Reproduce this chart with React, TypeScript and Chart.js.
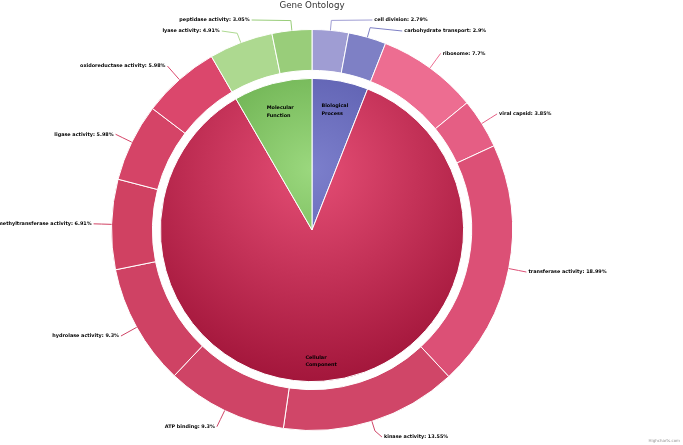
import React, { useEffect, useRef } from 'react';
import { Chart, registerables } from 'chart.js';

Chart.register(...registerables);

const chartTitle = 'Gene Ontology';
const creditText = 'Highcharts.com';

const categories = ['Biological Process', 'Cellular Component', 'Molecular Function'];
const categoryValues = [5.69, 81.56, 7.96];
const categoryLight = ['#7c7fcc', '#e54e75', '#9bd87e'];
const categoryDark = ['#45479a', '#a3163b', '#4b9530'];

const bioTerms = ['cell division', 'carbohydrate transport'];
const bioValues = [2.79, 2.9];
const bioColors = ['#9f9dd3', '#7e80c5'];

const cellTerms = [
  'ribosome',
  'viral capsid',
  'transferase activity',
  'kinase activity',
  'ATP binding',
  'hydrolase activity',
  'methyltransferase activity',
  'ligase activity',
  'oxidoreductase activity',
];
const cellValues = [7.7, 3.85, 18.99, 13.55, 9.3, 9.3, 6.91, 5.98, 5.98];
const cellColors = ['#ed6d91', '#e55e84', '#dc5076', '#d04668', '#cf4466', '#cf4264', '#d04162', '#d54467', '#db476c'];

const molTerms = ['lyase activity', 'peptidase activity'];
const molValues = [4.91, 3.05];
const molColors = ['#add990', '#99cd7a'];

const termLabels = [...bioTerms, ...cellTerms, ...molTerms];
const termValues = [...bioValues, ...cellValues, ...molValues];
const termColors = [...bioColors, ...cellColors, ...molColors];

const labelFont = 'bold 4.9px "DejaVu Sans", Verdana, sans-serif';

function innerColor(c: any) {
  const i = c.dataIndex;
  const chart = c.chart;
  const area = chart.chartArea;
  if (!area || c.type !== 'data') return categoryLight[i];
  const ctrl: any = chart.getDatasetMeta(c.datasetIndex).controller;
  const r = ctrl && ctrl.outerRadius ? ctrl.outerRadius : 150;
  const cx = (area.left + area.right) / 2;
  const cy = (area.top + area.bottom) / 2;
  const gy = cy - 0.4 * r;
  const g = chart.ctx.createRadialGradient(cx, gy, 0, cx, gy, 1.4 * r);
  g.addColorStop(0, categoryLight[i]);
  g.addColorStop(1, categoryDark[i]);
  return g;
}

const labelPlugin = {
  id: 'goLabels',
  afterDatasetsDraw(chart: any) {
    const ctx = chart.ctx as CanvasRenderingContext2D;
    const area = chart.chartArea;
    const cx = (area.left + area.right) / 2;
    const cy = (area.top + area.bottom) / 2;
    const outerMeta = chart.getDatasetMeta(0);
    const R = outerMeta.controller.outerRadius;
    const Rl = R + 18;
    const items = outerMeta.data.map((arc: any, i: number) => {
      const p = arc.getProps(['startAngle', 'endAngle'], true);
      const mid = (p.startAngle + p.endAngle) / 2;
      return {
        i,
        mid,
        right: Math.cos(mid) >= 0,
        y: cy + Math.sin(mid) * Rl,
        text: termLabels[i] + ': ' + termValues[i] + '%',
        color: termColors[i],
      };
    });
    const gap = 11;
    const topLimit = area.top - 9;
    const bottomLimit = area.bottom + 6;
    [true, false].forEach((side) => {
      const arr = items.filter((it: any) => it.right === side).sort((a: any, b: any) => a.y - b.y);
      let prev = -Infinity;
      arr.forEach((it: any) => {
        it.y = Math.max(it.y, topLimit, prev + gap);
        prev = it.y;
      });
      let next = Infinity;
      for (let k = arr.length - 1; k >= 0; k--) {
        arr[k].y = Math.min(arr[k].y, bottomLimit, next - gap);
        next = arr[k].y;
      }
    });

    ctx.save();
    items.forEach((it: any) => {
      const dy = it.y - cy;
      const dx = Math.sqrt(Math.max(Rl * Rl - dy * dy, 0));
      const x = it.right ? cx + dx : cx - dx;
      const bx = cx + Math.cos(it.mid) * (R + 10);
      const by = cy + Math.sin(it.mid) * (R + 10);
      const ex = cx + Math.cos(it.mid) * R;
      const ey = cy + Math.sin(it.mid) * R;
      ctx.beginPath();
      ctx.strokeStyle = it.color;
      ctx.lineWidth = 1;
      ctx.moveTo(x, it.y);
      ctx.lineTo(bx, by);
      ctx.lineTo(ex, ey);
      ctx.stroke();
      ctx.font = labelFont;
      ctx.fillStyle = '#000000';
      ctx.textBaseline = 'middle';
      ctx.textAlign = it.right ? 'left' : 'right';
      ctx.fillText(it.text, it.right ? x + 2 : x - 2, it.y);
    });

    // inner labels (lines left-aligned inside a box centred on the anchor)
    const innerMeta = chart.getDatasetMeta(2);
    const Ri = innerMeta.controller.outerRadius;
    innerMeta.data.forEach((arc: any, i: number) => {
      const p = arc.getProps(['startAngle', 'endAngle'], true);
      const mid = (p.startAngle + p.endAngle) / 2;
      const lx = cx + Math.cos(mid) * (Ri - 29);
      const ly = cy + Math.sin(mid) * (Ri - 29) + ((Math.sin(mid) + 1) / 2) * 9;
      const lines = categories[i].split(' ');
      ctx.font = labelFont;
      ctx.fillStyle = '#000000';
      ctx.textAlign = 'left';
      ctx.textBaseline = 'middle';
      const maxW = Math.max(...lines.map((ln) => ctx.measureText(ln).width));
      const lh = 7.5;
      lines.forEach((ln, k) => {
        ctx.fillText(ln, lx - maxW / 2, ly + (k - (lines.length - 1) / 2) * lh);
      });
    });

    // title
    ctx.font = '8.7px "DejaVu Sans", Verdana, sans-serif';
    ctx.fillStyle = '#333333';
    ctx.textAlign = 'center';
    ctx.textBaseline = 'middle';
    ctx.fillText(chartTitle, cx, 5.5);

    // credit
    ctx.font = '4px "DejaVu Sans", Verdana, sans-serif';
    ctx.fillStyle = '#909090';
    ctx.textAlign = 'right';
    ctx.fillText(creditText, chart.width - 3, chart.height - 4);
    ctx.restore();
  },
};

export default function App() {
  const ref = useRef<HTMLCanvasElement | null>(null);
  useEffect(() => {
    document.body.style.margin = '0';
    if (!ref.current) return;
    const chart = new Chart(ref.current, {
      type: 'doughnut',
      data: {
        labels: termLabels,
        datasets: [
          {
            data: termValues,
            backgroundColor: termColors,
            borderColor: '#ffffff',
            borderWidth: 1,
            weight: 41,
          } as any,
          {
            data: [1],
            backgroundColor: 'rgba(0,0,0,0)',
            borderWidth: 0,
            weight: 8,
          } as any,
          {
            data: categoryValues,
            backgroundColor: innerColor,
            borderColor: '#ffffff',
            borderWidth: 1,
            weight: 152,
          } as any,
        ],
      },
      options: {
        responsive: false,
        animation: false,
        cutout: 0,
        layout: { padding: { top: 29, bottom: 14, left: 111, right: 170 } },
        elements: { arc: { hoverOffset: 0, offset: 0 } as any },
        events: [],
        plugins: {
          legend: { display: false },
          tooltip: { enabled: false },
          title: { display: false },
        },
      } as any,
      plugins: [labelPlugin],
    });
    return () => chart.destroy();
  }, []);
  return (
    <div style={{ width: 683, height: 445 }}>
      <canvas ref={ref} width={683} height={445} />
    </div>
  );
}
